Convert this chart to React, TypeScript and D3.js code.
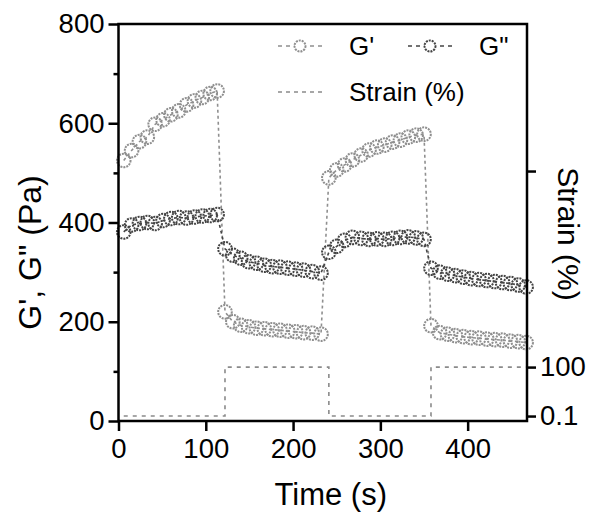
import React, { useEffect, useRef } from 'react';
import * as d3 from 'd3';

// time (s) of each measured point, four strain steps of 13 points
const times = [
  6, 15, 24, 33, 42, 51, 60, 69, 78, 87, 96, 105, 113,
  122, 131, 140, 149, 158, 167, 176, 185, 194, 203, 212, 222, 232,
  241, 250, 259, 268, 278, 287, 296, 305, 314, 323, 332, 341, 350,
  358, 368, 377, 386, 395, 404, 413, 422, 431, 440, 449, 458, 467,
];

const gPrime = [
  525, 545, 563, 572, 598, 607, 617, 625, 637, 645, 652, 660, 665,
  220, 200, 193, 190, 187, 186, 184, 183, 181, 180, 178, 177, 175,
  490, 506, 516, 526, 536, 546, 552, 556, 562, 566, 572, 576, 578,
  192, 178, 175, 172, 170, 168, 167, 165, 164, 163, 161, 160, 158,
];

const gDouble = [
  381, 395, 398, 400, 398, 404, 408, 410, 409, 411, 413, 414, 416,
  347, 334, 328, 321, 318, 314, 311, 310, 308, 306, 304, 301, 298,
  340, 352, 364, 370, 368, 366, 367, 366, 368, 370, 371, 369, 366,
  308, 300, 296, 293, 290, 287, 285, 283, 281, 279, 277, 274, 270,
];

const strain = [
  0.1, 0.1, 0.1, 0.1, 0.1, 0.1, 0.1, 0.1, 0.1, 0.1, 0.1, 0.1, 0.1,
  100, 100, 100, 100, 100, 100, 100, 100, 100, 100, 100, 100, 100,
  0.1, 0.1, 0.1, 0.1, 0.1, 0.1, 0.1, 0.1, 0.1, 0.1, 0.1, 0.1, 0.1,
  100, 100, 100, 100, 100, 100, 100, 100, 100, 100, 100, 100, 100,
];

const xTicks = [0, 100, 200, 300, 400];
const yTicks = [0, 200, 400, 600, 800];
const yMinorTicks = [100, 300, 500, 700];
const strainTicks = [0.1, 100, 500];

const FONT = '"Liberation Sans", Arial, Helvetica, sans-serif';
const C_GP = '#8f8f8f';
const C_GPP = '#444444';
const C_STRAIN = '#8a8a8a';

const App = () => {
  const svgRef = useRef<SVGSVGElement>(null);

  useEffect(() => {
    const W = 595;
    const H = 517;
    const left = 118.5;
    const right = 527;
    const top = 24;
    const bottom = 421;

    const svg = d3.select(svgRef.current).attr('width', W).attr('height', H);
    svg.selectAll('*').remove();

    const x = d3.scaleLinear().domain([0, 468]).range([left, right]);
    const y = d3.scaleLinear().domain([0, 800]).range([bottom, top]);
    const yS = d3.scaleLinear().domain([-10, 800]).range([bottom, top]);

    const idx = d3.range(times.length);

    // strain line
    const strainLine = d3.line<number>()
      .x(i => x(times[i]))
      .y(i => yS(strain[i]))
      .curve(d3.curveStepAfter);
    svg.append('path')
      .attr('d', strainLine(idx))
      .attr('fill', 'none')
      .attr('stroke', C_STRAIN)
      .attr('stroke-width', 1.6)
      .attr('stroke-dasharray', '4,5');

    const drawSeries = (vals: number[], color: string) => {
      const line = d3.line<number>().x(i => x(times[i])).y(i => y(vals[i]));
      svg.append('path')
        .attr('d', line(idx))
        .attr('fill', 'none')
        .attr('stroke', color)
        .attr('stroke-width', 1.6)
        .attr('stroke-dasharray', '3,3');
      svg.append('g').selectAll('circle')
        .data(idx)
        .enter()
        .append('circle')
        .attr('cx', i => x(times[i]))
        .attr('cy', i => y(vals[i]))
        .attr('r', 6.8)
        .attr('fill', 'none')
        .attr('stroke', color)
        .attr('stroke-width', 2)
        .attr('stroke-dasharray', '2,1');
    };
    drawSeries(gPrime, C_GP);
    drawSeries(gDouble, C_GPP);

    // frame
    svg.append('rect')
      .attr('x', left).attr('y', top)
      .attr('width', right - left).attr('height', bottom - top)
      .attr('fill', 'none').attr('stroke', '#000').attr('stroke-width', 2.5);

    const styleAxis = (g: any, size: number) => {
      g.select('.domain').remove();
      g.selectAll('line').attr('stroke', '#000').attr('stroke-width', 2.5);
      g.selectAll('text').attr('font-family', FONT).attr('font-size', size).attr('fill', '#000');
    };

    svg.append('g')
      .attr('transform', `translate(0,${bottom})`)
      .call(d3.axisBottom(x).tickValues(xTicks).tickSize(10).tickPadding(7).tickFormat(d => `${d}`))
      .call(g => styleAxis(g, 27.5));

    svg.append('g')
      .attr('transform', `translate(${left},0)`)
      .call(d3.axisLeft(y).tickValues(yTicks).tickSize(10).tickPadding(4).tickFormat(d => `${d}`))
      .call(g => styleAxis(g, 27.5));

    svg.append('g')
      .attr('transform', `translate(${left},0)`)
      .call(d3.axisLeft(y).tickValues(yMinorTicks).tickSize(5).tickFormat(() => ''))
      .call(g => styleAxis(g, 27.5));

    svg.append('g')
      .attr('transform', `translate(${right},0)`)
      .call(d3.axisRight(yS).tickValues(strainTicks).tickSize(9).tickPadding(4)
        .tickFormat(d => (d === 500 ? '' : `${d}`)))
      .call(g => styleAxis(g, 27.5));

    // axis titles
    svg.append('text')
      .attr('x', (left + right) / 2 + 8).attr('y', 505)
      .attr('text-anchor', 'middle')
      .attr('font-family', FONT).attr('font-size', 31)
      .text('Time (s)');

    svg.append('text')
      .attr('transform', `translate(41,${(top + bottom) / 2 + 30}) rotate(-90)`)
      .attr('text-anchor', 'middle')
      .attr('font-family', FONT).attr('font-size', 32)
      .text('G\', G" (Pa)');

    svg.append('text')
      .attr('transform', `translate(558,234) rotate(90)`)
      .attr('text-anchor', 'middle')
      .attr('font-family', FONT).attr('font-size', 30)
      .text('Strain (%)');

    // legend
    const legend = svg.append('g').attr('font-family', FONT);
    const legendItem = (lx: number, ly: number, color: string, label: string, marker: boolean) => {
      legend.append('line')
        .attr('x1', lx).attr('x2', lx + 45).attr('y1', ly).attr('y2', ly)
        .attr('stroke', color).attr('stroke-width', 1.6).attr('stroke-dasharray', '4,4');
      if (marker) {
        legend.append('circle')
          .attr('cx', lx + 22).attr('cy', ly).attr('r', 5.5)
          .attr('fill', '#fff').attr('stroke', color)
          .attr('stroke-width', 2).attr('stroke-dasharray', '2,1');
      }
      legend.append('text')
        .attr('x', lx + 71).attr('y', ly + 9)
        .attr('font-size', 26)
        .text(label);
    };
    legendItem(278, 46, C_GP, "G'", true);
    legendItem(408, 46, C_GPP, 'G"', true);
    legendItem(278, 92, C_STRAIN, 'Strain (%)', false);
  }, []);

  return <svg ref={svgRef} style={{ position: 'absolute', left: 0, top: 0 }}></svg>;
};

export default App;
